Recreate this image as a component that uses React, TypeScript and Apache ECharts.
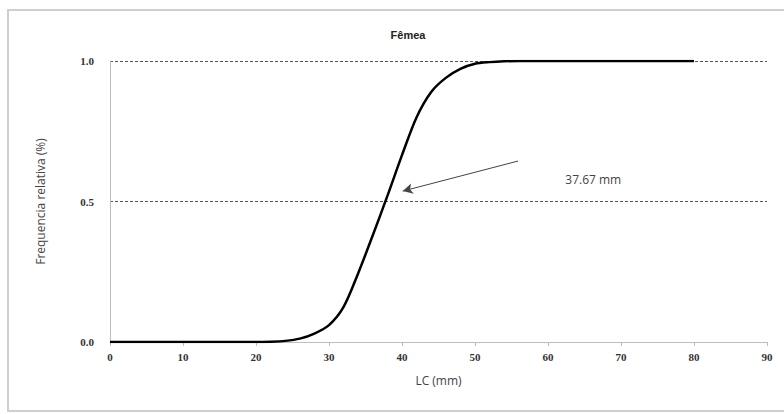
import React, { useEffect, useRef } from "react";
import * as echarts from "echarts";

const lcValues = [0, 10, 20, 22, 24, 26, 28, 30, 32, 34, 36, 38, 40, 42, 44, 46, 48, 50, 52, 54, 56, 60, 70, 80];
const freqValues = [0, 0, 0, 0.001, 0.004, 0.012, 0.03, 0.06, 0.125, 0.245, 0.38, 0.52, 0.665, 0.8, 0.89, 0.94, 0.972, 0.99, 0.996, 0.999, 1.0, 1.0, 1.0, 1.0];
const xTicks = [0, 10, 20, 30, 40, 50, 60, 70, 80, 90];
const yTicks = [0, 0.5, 1.0];
const l50Label = "37.67 mm";
const arrowFrom = [55.9, 0.644];
const arrowTo = [40.1, 0.537];
const labelAt = [66.2, 0.58];

export default function App() {
  const ref = useRef<HTMLDivElement>(null);
  useEffect(() => {
    const chart = echarts.init(ref.current!, null, { renderer: "svg" });
    chart.setOption({
      animation: false,
      backgroundColor: "#ffffff",
      title: {
        text: "Fêmea",
        left: 403,
        top: 24,
        textAlign: "center",
        textStyle: { fontFamily: "Liberation Sans", fontWeight: "bold", fontSize: 11, color: "#222" },
      },
      graphic: [
        {
          type: "rect",
          shape: { x: 8, y: 10, width: 800, height: 401 },
          style: { fill: "none", stroke: "#cfcfcf", lineWidth: 2 },
          silent: true,
        },
      ],
      grid: { left: 110, right: 17, top: 61, bottom: 72 },
      xAxis: {
        type: "value",
        min: xTicks[0],
        max: xTicks[xTicks.length - 1],
        interval: 10,
        name: "LC (mm)",
        nameLocation: "middle",
        nameGap: 32,
        nameTextStyle: { fontFamily: "Open Sans", fontSize: 12, color: "#444" },
        axisLine: { show: true, lineStyle: { color: "#bdbdbd", width: 1 } },
        axisTick: { show: true, length: 4, lineStyle: { color: "#bdbdbd" } },
        axisLabel: { fontFamily: "Liberation Serif", fontWeight: "bold", fontSize: 11, color: "#333", margin: 9 },
        splitLine: { show: false },
      },
      yAxis: {
        type: "value",
        min: yTicks[0],
        max: yTicks[yTicks.length - 1],
        interval: 0.5,
        name: "Frequencia relativa (%)",
        nameLocation: "middle",
        nameGap: 64,
        nameTextStyle: { fontFamily: "Open Sans", fontSize: 12, color: "#444" },
        axisLine: { show: true, lineStyle: { color: "#bdbdbd", width: 1 } },
        axisTick: { show: false },
        axisLabel: {
          fontFamily: "Liberation Serif",
          fontWeight: "bold",
          fontSize: 11,
          color: "#333",
          margin: 16,
          formatter: (v: number) => v.toFixed(1),
        },
        splitLine: { show: true, lineStyle: { color: "#555", type: [3, 2], width: 1 } },
      },
      series: [
        {
          type: "line",
          data: lcValues.map((x, i) => [x, freqValues[i]]),
          smooth: 0.3,
          showSymbol: false,
          lineStyle: { color: "#000", width: 2.5 },
          z: 5,
          markLine: {
            silent: true,
            symbol: ["none", "arrow"],
            symbolSize: [8, 10],
            lineStyle: { color: "#444", width: 1, type: "solid" },
            label: { show: false },
            data: [[{ coord: arrowFrom }, { coord: arrowTo }]],
          },
          markPoint: {
            silent: true,
            symbol: "circle",
            symbolSize: 0,
            label: {
              show: true,
              formatter: l50Label,
              fontFamily: "Open Sans",
              fontSize: 12,
              color: "#444",
              position: "inside",
            },
            data: [{ coord: labelAt }],
          },
        },
      ],
    });
    return () => chart.dispose();
  }, []);
  return (
    <div
      ref={ref}
      style={{ position: "absolute", left: 0, top: 0, width: 784, height: 414 }}
    />
  );
}
